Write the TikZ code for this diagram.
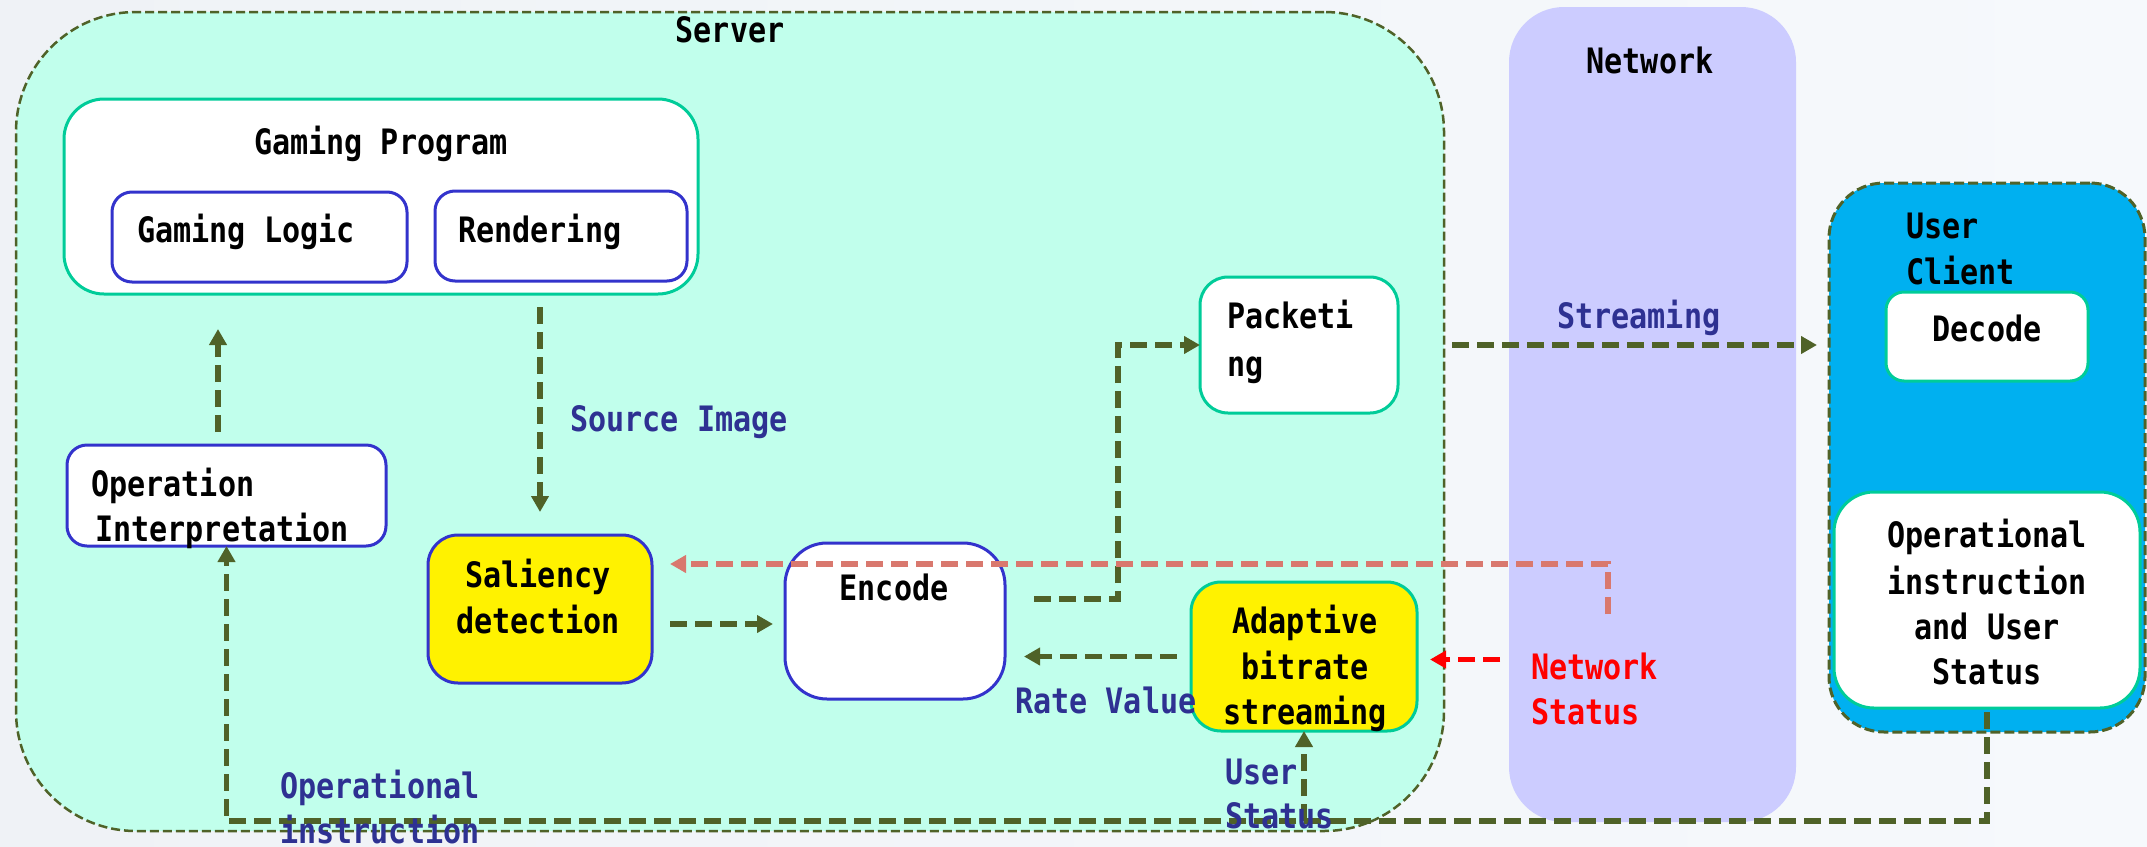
\documentclass[tikz,border=0pt]{standalone}
\usepackage{fontspec}
\setmainfont{DejaVu Sans Mono}[FakeStretch=0.86]
\usetikzlibrary{arrows.meta,calc}
\definecolor{bgL}{RGB}{239,242,246}
\definecolor{bgR}{RGB}{246,249,252}
\definecolor{mymint}{RGB}{193,255,236}
\definecolor{myolive}{RGB}{79,98,40}
\definecolor{mylav}{RGB}{204,204,255}
\definecolor{mysky}{RGB}{0,176,240}
\definecolor{myteal}{RGB}{0,204,153}
\definecolor{myblue}{RGB}{51,51,204}
\definecolor{mylab}{RGB}{46,49,146}
\definecolor{mysalmon}{RGB}{217,120,110}
\definecolor{myred}{RGB}{255,0,0}
\begin{document}
\begin{tikzpicture}[x=1pt,y=-1pt,
  every node/.style={font=\fontsize{35}{45}\selectfont\bfseries},
  sz/.style 2 args={minimum width=#1,minimum height=#2,inner sep=0pt,outer sep=0pt},
  tbox/.style={draw=myteal,line width=3pt,fill=white},
  bbox/.style={draw=myblue,line width=3pt,fill=white},
  txt/.style={inner sep=0pt,anchor=base west},
  ctxt/.style={inner sep=0pt,anchor=base},
  lab/.style={text=mylab},
  arr/.style={draw=myolive,line width=5.5pt,dash pattern=on 17pt off 8pt,
    -{Triangle[length=16pt,width=17pt]}},
  salarr/.style={draw=mysalmon,line width=5.5pt,dash pattern=on 17pt off 8pt,
    -{Triangle[length=16pt,width=17pt]}},
  redarr/.style={draw=myred,line width=5.5pt,dash pattern=on 17pt off 8pt,
    -{Triangle[length=16pt,width=17pt]}}]
\useasboundingbox (0,0) rectangle (2147,846);
\shade[left color=bgL,right color=bgR] (0,0) rectangle (2147,846);

% containers
\node[sz={1428pt}{819pt},draw=myolive,line width=2.5pt,dash pattern=on 9pt off 4pt,
  fill=mymint,rounded corners=120pt] (server) at (730,421.5) {};
\node[sz={287pt}{815pt},fill=mylav,rounded corners=55pt] (network) at (1652.5,414.5) {};
\node[sz={316pt}{549pt},draw=myolive,line width=3pt,dash pattern=on 10pt off 4pt,
  fill=mysky,rounded corners=55pt] (client) at (1987,457.5) {};

% boxes
\node[sz={202pt}{89pt},tbox,rounded corners=18pt] (decode) at (1987,336.5) {};
\node[sz={306pt}{216pt},tbox,rounded corners=40pt] (opstat) at (1987,600) {};
\node[sz={634pt}{195pt},tbox,rounded corners=40pt] (gp) at (381,196.5) {};
\node[sz={295pt}{90pt},bbox,rounded corners=20pt] (gl) at (259.5,237) {};
\node[sz={252pt}{90pt},bbox,rounded corners=20pt] (rend) at (561,236) {};
\node[sz={319pt}{101pt},bbox,rounded corners=20pt] (opint) at (226.5,495.5) {};
\node[sz={224pt}{148pt},bbox,fill=yellow,rounded corners=30pt] (sal) at (540,609) {};
\node[sz={220pt}{156pt},bbox,rounded corners=42pt] (enc) at (895,621) {};
\node[sz={198pt}{136pt},tbox,rounded corners=28pt] (pack) at (1299,345) {};
\node[sz={226pt}{149pt},tbox,fill=yellow,rounded corners=30pt] (abr) at (1304,656.5) {};

% connectors
\coordinate (ax) at (218,0);
\draw[arr,shorten <=13pt,shorten >=35pt] (opint.north -| ax) -- (gp.south -| ax);
\draw[arr,shorten <=26pt,shorten >=23pt] (rend.south -| sal.north) -- (sal.north);
\draw[arr] ([xshift=18pt,yshift=-15pt]sal.east) -- ([xshift=-12pt,yshift=-3pt]enc.west);
\draw[arr] ([xshift=29pt,yshift=22pt]enc.east) -- ++(84,0) |- (pack.west);
\draw[arr,shorten <=54pt,shorten >=12pt] (pack.east) -- (pack.east -| client.west);
\draw[arr,shorten <=14pt,shorten >=19pt] (abr.west) -- (abr.west -| enc.east);
\draw[redarr] ([xshift=83pt,yshift=-3pt]abr.east) -- ([xshift=13pt,yshift=-3pt]abr.east);
\coordinate (nsrc) at (1608,614);
\draw[salarr] (nsrc) |- ([xshift=18pt,yshift=45pt]sal.east);
\draw[arr,shorten <=4pt] (opstat.south) -- ++(0,113) -| (opint.south);
\draw[arr] ([yshift=-90pt]abr.south) -- (abr.south);

% texts
\node[ctxt] (tserver) at (730,42) {Server};
\node[ctxt] (tnet) at (1650,73) {Network};
\node[ctxt] (tgp) at (381,154) {Gaming Program};
\node[txt] (tgl) at (137,242) {Gaming Logic};
\node[txt] (trend) at (458,242) {Rendering};
\node[txt] (top1) at (91,496) {Operation};
\node[txt] (top2) at (95,541) {Interpretation};
\node[ctxt] (tsal1) at (538,587) {Saliency};
\node[ctxt] (tsal2) at (538,633) {detection};
\node[ctxt] (tenc) at (894,600) {Encode};
\node[txt] (tpk1) at (1227,328) {Packeti};
\node[txt] (tpk2) at (1227,376) {ng};
\node[ctxt] (tab1) at (1305,633) {Adaptive};
\node[ctxt] (tab2) at (1305,679) {bitrate};
\node[ctxt] (tab3) at (1305,724) {streaming};
\node[txt] (tuc1) at (1906,238) {User};
\node[txt] (tuc2) at (1906,284) {Client};
\node[ctxt] (tdec) at (1987,341) {Decode};
\node[ctxt] (tos1) at (1987,547) {Operational};
\node[ctxt] (tos2) at (1987,594) {instruction};
\node[ctxt] (tos3) at (1987,639) {and User};
\node[ctxt] (tos4) at (1987,684) {Status};

\node[txt,lab] (lsrc) at (570,431) {Source Image};
\node[txt,lab] (lstr) at (1557,328) {Streaming};
\node[txt,lab] (lrate) at (1015,713) {Rate Value};
\node[txt,lab] (lus1) at (1225,784) {User};
\node[txt,lab] (lus2) at (1225,828) {Status};
\node[txt,lab] (lop1) at (280,798) {Operational};
\node[txt,lab] (lop2) at (280,843) {instruction};
\node[txt,text=myred] (lns1) at (1531,679) {Network};
\node[txt,text=myred] (lns2) at (1531,724) {Status};
\end{tikzpicture}
\end{document}
